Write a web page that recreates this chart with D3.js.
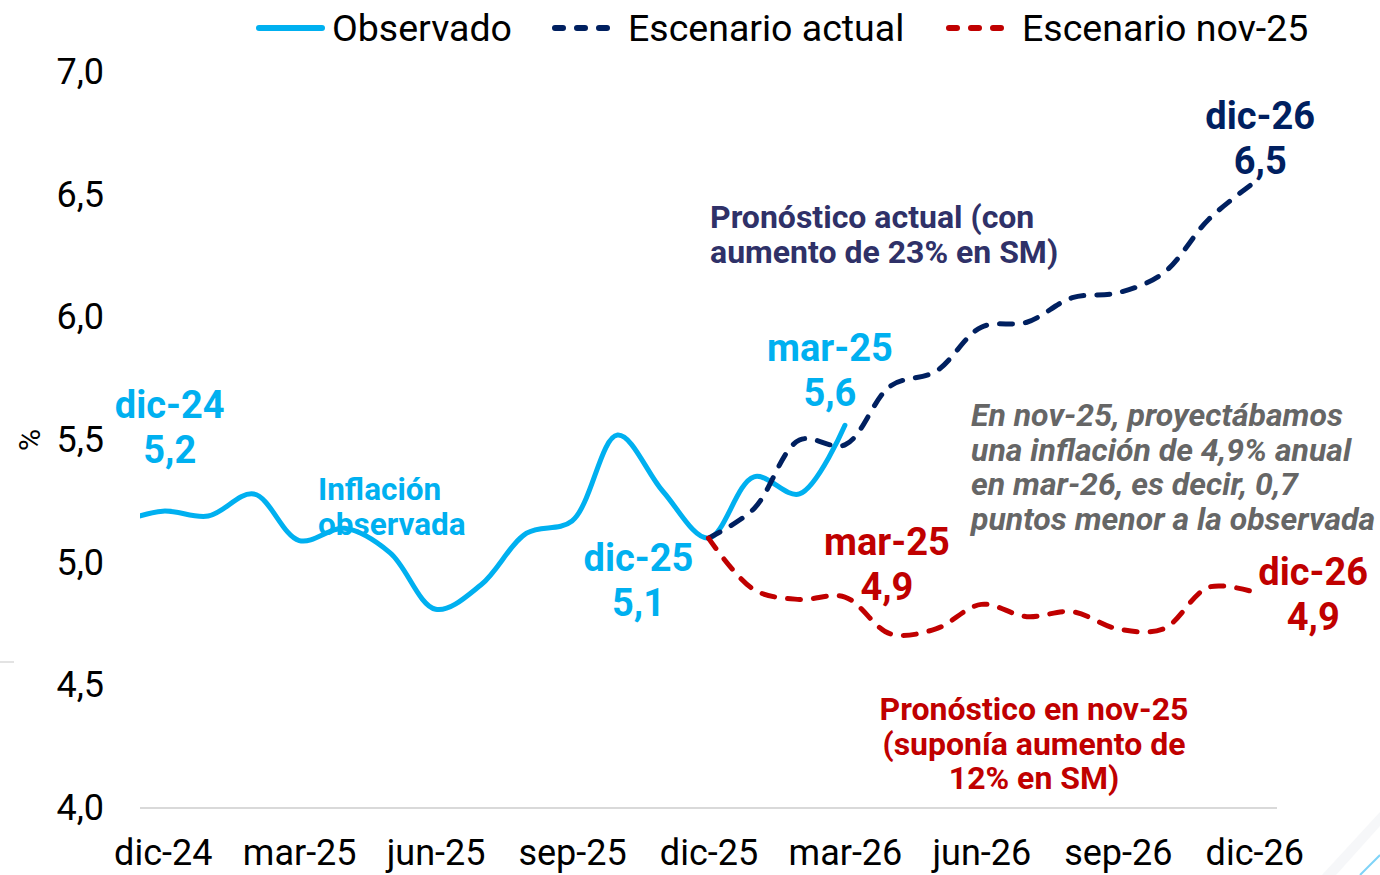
<!DOCTYPE html>
<html>
<head>
<meta charset="utf-8">
<script src="https://cdn.jsdelivr.net/npm/d3@7"></script>
<style>
  body { margin: 0; background: #fff; }
  svg { display: block; font-family: Roboto, "Noto Sans", sans-serif; }
</style>
</head>
<body>
<svg width="1380" height="875"></svg>
<script>
// months on the x axis (nov-24 only shows as the clipped start of the line)
const months = ["nov-24","dic-24","ene-25","feb-25","mar-25","abr-25","may-25","jun-25","jul-25",
  "ago-25","sep-25","oct-25","nov-25","dic-25","ene-26","feb-26","mar-26","abr-26","may-26",
  "jun-26","jul-26","ago-26","sep-26","oct-26","nov-26","dic-26"]
const tickMonths = ["dic-24","mar-25","jun-25","sep-25","dic-25","mar-26","jun-26","sep-26","dic-26"]
const yTicks = [4.0, 4.5, 5.0, 5.5, 6.0, 6.5, 7.0]

// observado: nov-24 .. mar-26
const observado = [5.16, 5.21, 5.19, 5.28, 5.09, 5.14, 5.04, 4.81, 4.91, 5.12, 5.17, 5.52, 5.29, 5.10, 5.35, 5.28, 5.56]
// escenarios: dic-25 .. dic-26
const escActual = [5.10, 5.22, 5.50, 5.48, 5.72, 5.78, 5.96, 5.98, 6.08, 6.10, 6.18, 6.40, 6.55]
const escNov25 = [5.10, 4.89, 4.85, 4.86, 4.71, 4.73, 4.83, 4.78, 4.80, 4.73, 4.73, 4.90, 4.88]

const colors = { obs: "#00b0f0", actual: "#002060", nov: "#c00000" }

const svg = d3.select("svg")
const mLeft = 140, mRight = 1277, mTop = 72, mBottom = 808

const x = d3.scaleLinear().domain([0.5, months.length - 0.5]).range([mLeft, mRight])
const y = d3.scaleLinear().domain([4, 7]).range([mBottom, mTop])

const locale = d3.formatLocale({ decimal: ",", thousands: ".", grouping: [3], currency: ["$", ""] })
const fmt = locale.format(".1f")

svg.append("defs").append("clipPath").attr("id", "plot")
  .append("rect").attr("x", mLeft).attr("y", 0).attr("width", mRight - mLeft).attr("height", 875)

// small decorations from the slide
svg.append("line").attr("x1", 0).attr("x2", 14).attr("y1", 662).attr("y2", 662)
  .attr("stroke", "#e3e3e3").attr("stroke-width", 2)
svg.append("path").attr("d", "M1322,875 L1380,812 L1380,826 L1336,875 Z").attr("fill", "#f6f7f9")
svg.append("line").attr("x1", 1360).attr("y1", 875).attr("x2", 1380).attr("y2", 855)
  .attr("stroke", "#7fd3f7").attr("stroke-width", 2)

// baseline
svg.append("line").attr("x1", mLeft).attr("x2", mRight).attr("y1", mBottom).attr("y2", mBottom)
  .attr("stroke", "#d9d9d9").attr("stroke-width", 2)

// y axis
const yAxis = svg.append("g").attr("transform", `translate(${mLeft},0)`)
  .call(d3.axisLeft(y).tickValues(yTicks).tickFormat(fmt).tickSize(0).tickPadding(36))
yAxis.select(".domain").remove()
yAxis.selectAll("text").attr("font-size", 36).attr("fill", "#000").attr("font-family", "Roboto")

// x axis
const xAxis = svg.append("g").attr("transform", `translate(0,${mBottom})`)
  .call(d3.axisBottom(x).tickValues(tickMonths.map(m => months.indexOf(m)))
    .tickFormat(i => months[i]).tickSize(0).tickPadding(31))
xAxis.select(".domain").remove()
xAxis.selectAll("text").attr("font-size", 36).attr("fill", "#000").attr("font-family", "Roboto")

svg.append("text").attr("transform", "translate(40,440) rotate(-90)")
  .attr("text-anchor", "middle").attr("font-size", 30).text("%")

// lines
const line = d3.line().x(d => x(d.i)).y(d => y(d.v)).curve(d3.curveCatmullRom.alpha(0.5))
const start = months.indexOf("dic-25")
const obsData = observado.map((v, i) => ({ i, v }))
const actData = escActual.map((v, i) => ({ i: start + i, v }))
const novData = escNov25.map((v, i) => ({ i: start + i, v }))

const lines = svg.append("g").attr("clip-path", "url(#plot)")
lines.append("path").datum(obsData).attr("d", line)
  .attr("fill", "none").attr("stroke", colors.obs).attr("stroke-width", 5).attr("stroke-linecap", "round")
lines.append("path").datum(actData).attr("d", line)
  .attr("fill", "none").attr("stroke", colors.actual).attr("stroke-width", 5)
  .attr("stroke-dasharray", "13,13").attr("stroke-linecap", "round")
lines.append("path").datum(novData).attr("d", line)
  .attr("fill", "none").attr("stroke", colors.nov).attr("stroke-width", 5)
  .attr("stroke-dasharray", "13,13").attr("stroke-linecap", "round")

// legend
const legend = [
  { label: "Observado", color: colors.obs, dash: null, x: 256 },
  { label: "Escenario actual", color: colors.actual, dash: "8,14", x: 552 },
  { label: "Escenario nov-25", color: colors.nov, dash: "8,14", x: 946 }
]
const lg = svg.append("g").selectAll("g").data(legend).enter().append("g")
  .attr("transform", d => `translate(${d.x},28)`)
lg.append("line").attr("x1", 3).attr("x2", 66).attr("y1", 0).attr("y2", 0)
  .attr("stroke", d => d.color).attr("stroke-width", 6).attr("stroke-linecap", "round")
  .attr("stroke-dasharray", d => d.dash)
lg.append("text").attr("x", 76).attr("y", 13).attr("font-size", 37.5).text(d => d.label)

// annotations
function label(rows, px, py, opts) {
  const t = svg.append("text").attr("x", px).attr("y", py)
    .attr("font-size", opts.size).attr("font-weight", "bold").attr("fill", opts.color)
    .attr("text-anchor", opts.anchor || "middle")
  if (opts.italic) t.attr("font-style", "italic")
  rows.forEach((s, k) => t.append("tspan").attr("x", px).attr("dy", k === 0 ? 0 : opts.lh).text(s))
}
const big = { size: 38, lh: 45 }
label(["dic-24", fmt(observado[1])], x(1) + 7, 418, { ...big, color: colors.obs })
label(["dic-25", fmt(observado[13])], x(13) - 70, 571, { ...big, color: colors.obs })
label(["mar-25", fmt(observado[16])], x(16) - 15, 361, { ...big, color: colors.obs })
label(["dic-26", fmt(escActual[12])], x(25) + 6, 129, { ...big, color: colors.actual })
label(["mar-25", fmt(escNov25[3])], x(16) + 42, 555, { ...big, color: colors.nov })
label(["dic-26", fmt(escNov25[12])], x(25) + 59, 585, { ...big, color: colors.nov })

label(["Inflación", "observada"], 318, 500, { size: 31.5, lh: 35, color: colors.obs, anchor: "start" })
label(["Pronóstico actual (con", "aumento de 23% en SM)"], 710, 228, { size: 32, lh: 34.5, color: "#2f3168", anchor: "start" })
label(["Pronóstico en nov-25", "(suponía aumento de", "12% en SM)"], 1034, 720, { size: 32, lh: 34.5, color: colors.nov })
label(["En nov-25, proyectábamos", "una inflación de 4,9% anual", "en mar-26, es decir, 0,7",
  "puntos menor a la observada"], 971, 426, { size: 32, lh: 34.5, color: "#666666", anchor: "start", italic: true })
</script>
</body>
</html>
